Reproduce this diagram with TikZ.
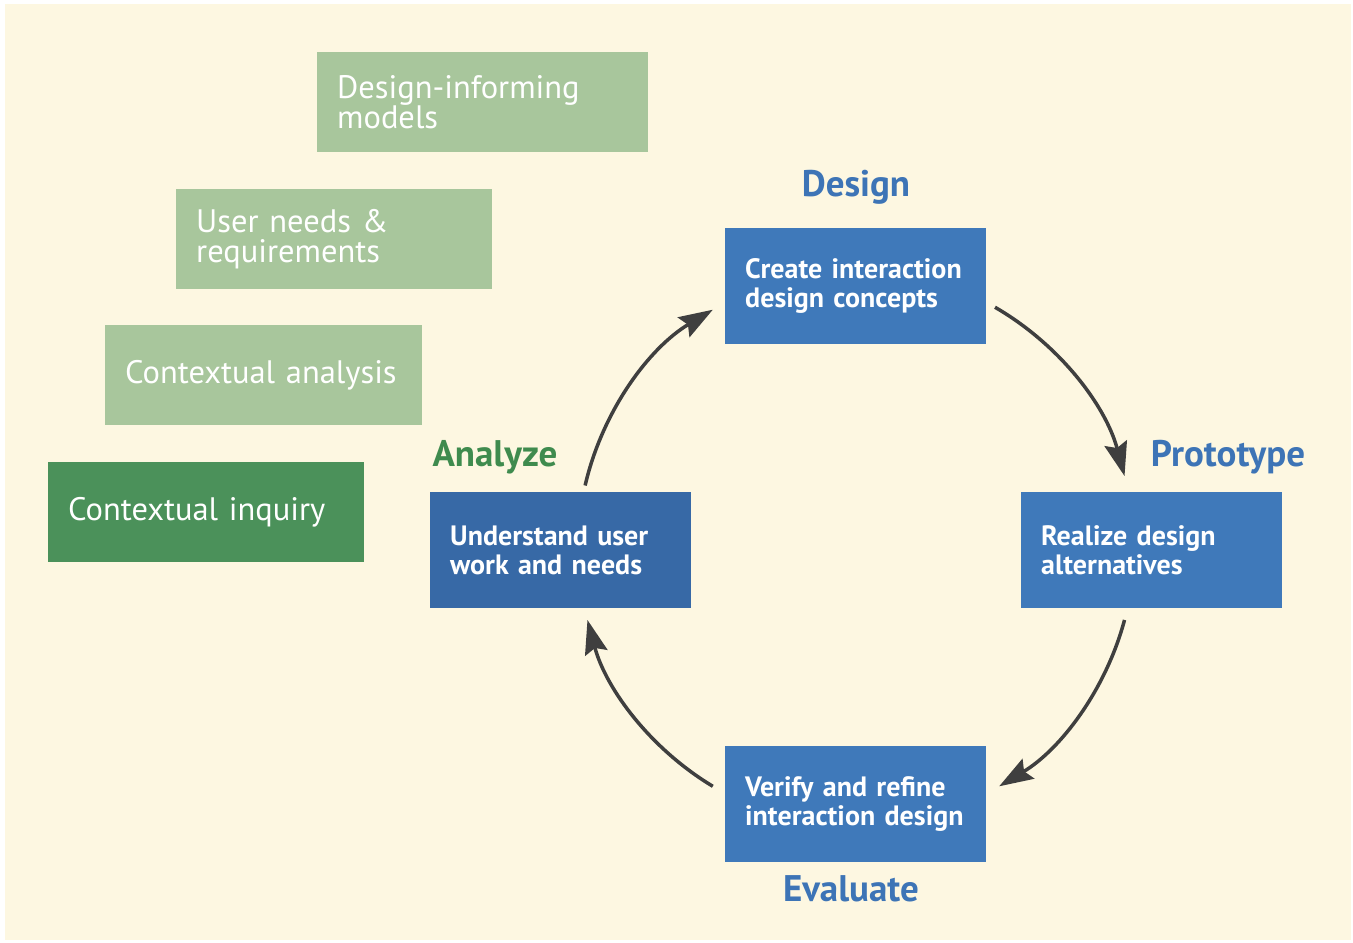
\documentclass[tikz,border=0pt]{standalone}
\usepackage{fontspec}
\setmainfont{PT Sans}
\usetikzlibrary{arrows.meta}
\definecolor{bg}{HTML}{FDF7E1}
\definecolor{lgreen}{HTML}{A8C69C}
\definecolor{dgreen}{HTML}{4B915A}
\definecolor{boxblue}{HTML}{3F79BA}
\definecolor{dblue}{HTML}{3769A6}
\definecolor{lblue}{HTML}{3D74B6}
\definecolor{agreen}{HTML}{3F8B4E}
\definecolor{arrowc}{HTML}{3F3F3F}
\tikzset{
  greenbox/.style={rectangle, fill=lgreen, text=white, anchor=north west, inner xsep=20pt, inner ysep=0pt,
     text width=#1, minimum height=100pt, align=left, font=\fontsize{32.5}{30}\selectfont},
  bluebox/.style={rectangle, fill=boxblue, text=white, anchor=north west, inner xsep=20pt, inner ysep=0pt,
     text width=221pt, minimum height=116pt, align=left, font=\fontsize{28}{28.5}\selectfont\bfseries},
  phase/.style={text=lblue, font=\fontsize{37}{40}\selectfont\bfseries},
  arr/.style={draw=arrowc, line width=3.5pt, -{Stealth[length=34pt,width=23pt,inset=5pt]}}
}
\begin{document}
\begin{tikzpicture}[x=1pt,y=-1pt]
\fill[white] (0,0) rectangle (1353,943);
\useasboundingbox (0,0) rectangle (1353,943);
\fill[bg] (5,4) rectangle (1351,940);
% green stack
\node[greenbox=291pt] (dim) at (317,52) {Design-informing\\models};
\node[greenbox=276pt] (unr) at (176,189) {User needs \&\\requirements};
\node[greenbox=277pt] (ca) at (105,325) {Contextual analysis};
\node[greenbox=276pt, fill=dgreen] (ci) at (48,462) {Contextual inquiry};
% blue boxes
\node[bluebox] (design) at (725,228) {Create interaction\\design concepts};
\node[bluebox] (proto) at (1021,492) {Realize design\\alternatives};
\node[bluebox, fill=dblue] (analyze) at (430,492) {Understand user\\work and needs};
\node[bluebox] (eval) at (725,746) {Verify and refine\\interaction design};
% labels
\node[phase] (ldesign) at (856,187) {Design};
\node[phase] (lproto) at (1228,457) {Prototype};
\node[phase, text=agreen] (lanalyze) at (495,457) {Analyze};
\node[phase] (leval) at (851,889) {Evaluate};
% arrows
\coordinate (c) at (856,548);
\draw[arr] ([shift={(-60:278)}]c) arc[start angle=-60, end angle=-15, radius=278];
\draw[arr] ([shift={(15:278)}]c) arc[start angle=15, end angle=59, radius=278];
\draw[arr] ([shift={(121:278)}]c) arc[start angle=121, end angle=165, radius=278];
\draw[arr] ([shift={(193:278)}]c) arc[start angle=193, end angle=239, radius=278];
\end{tikzpicture}
\end{document}
